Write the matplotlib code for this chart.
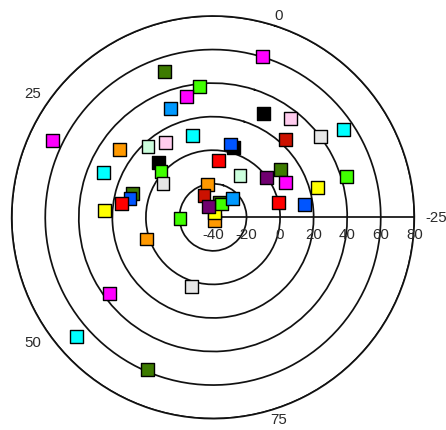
import numpy as np
import matplotlib
matplotlib.use("Agg")
import matplotlib.pyplot as plt
from matplotlib.transforms import offset_copy

# ---- data (angle value, radius value, colour), in drawing order ----
theta_vals = [0.35, 12.6, 8.3, 10.5, 13.6, -2.8, -7.0, -13.2, -12.2, 28.6,
              25.0, 21.0, 17.4, 11.1, 0.5, 1.5, 4.2, -8.7, 21.9, 23.1,
              25.6, 29.8, -5.1, -12.7, -12.4, -16.1, -19.1, -19.5, -20.7, -22.3,
              31.7, 33.0, 34.5, 36.2, 76.9, -0.8, -1.5, -4.9, -9.8, 9.6,
              14.1, 13.9, 38.1, 43.8, 62.8, 50.1, 51.8, 60.7]
r_vals = [60.4, 51.7, 38.5, 33.8, 29.6, 29.0, 35.1, 54.1, 40.3, 66.0,
          29.2, 17.4, 12.9, 10.5, 3.3, 5.0, -5.8, 23.5, 6.2, 1.4,
          -3.9, 30.3, -10.2, 9.5, -0.2, 8.1, 43.3, 24.9, 0.1, 15.2,
          10.0, 10.8, 15.0, 24.9, -38.0, -37.1, -30.2, -30.6, -24.0, -19.9,
          -26.0, -33.2, -20.3, 1.6, 3.3, 36.4, 67.9, 58.6]
point_colors = ["#ff00ff", "#3d7b00", "#40ff00", "#ff00ff", "#0099ff", "#000000",
                "#ffccee", "#00ffff", "#e6e6e6", "#ff00ff", "#ff9900", "#ccffdd",
                "#ffccee", "#00ffff", "#000000", "#0055ff", "#ff0000", "#cc1100",
                "#000000", "#40ff00", "#e6e6e6", "#00ffff", "#ccffdd", "#3d7b00",
                "#700070", "#ff00ff", "#40ff00", "#ffff00", "#ff0000", "#0055ff",
                "#3d7b00", "#0055ff", "#ff0000", "#ffff00", "#ff9900", "#ffff00",
                "#3d7b00", "#40ff00", "#0099ff", "#ff9900", "#cc1100", "#700070",
                "#40ff00", "#ff9900", "#e6e6e6", "#ff00ff", "#00ffff", "#3d7b00"]

radial_ticks = [-40, -20, 0, 20, 40, 60, 80]
angle_ticks = [-25, 0, 25, 50, 75]
PERIOD = 125          # full turn in angle units
R_MIN, R_MAX = -40, 80

FONT = "Liberation Sans"
TXT = "#2a2a2a"
LINE = "#111111"


def to_rad(v):
    return np.asarray(v, dtype=float) * 2 * np.pi / PERIOD


fig = plt.figure(figsize=(4.46, 4.31), dpi=100)
ax = fig.add_axes([0.02623, 0.02645, 0.9027, 0.9341], projection="polar")
ax.set_theta_offset(to_rad(25))       # -25 points east
ax.set_theta_direction(1)
ax.set_ylim(R_MIN, R_MAX)

ax.set_xticks([])
ax.set_yticks(radial_ticks[1:])
ax.set_yticklabels([])
ax.yaxis.grid(True, color=LINE, linewidth=1.25, linestyle="-")
ax.spines["polar"].set_color(LINE)
ax.spines["polar"].set_linewidth(1.25)
ax.tick_params(axis="y", length=0)

# radial axis line
ax.plot([to_rad(-25), to_rad(-25)], [R_MIN, R_MAX], color=LINE,
        linewidth=1.25, zorder=2)

# radial labels below the axis line
lab_tr = offset_copy(ax.transData, fig=fig, x=0, y=-10, units="dots")
for r in radial_ticks:
    ax.text(to_rad(-25), r, str(r), transform=lab_tr, ha="center", va="top",
            fontsize=10.8, family=FONT, color=TXT, clip_on=False)

# angular labels
for v in angle_ticks:
    a = (v + 25) * 2 * np.pi / PERIOD
    c = np.cos(a)
    ha = "left" if c > 0.5 else ("right" if c < -0.5 else "center")
    ax.text(to_rad(v), 86.5, str(v), ha=ha, va="center", fontsize=10.8,
            family=FONT, color=TXT, clip_on=False)

ax.scatter(to_rad(theta_vals), r_vals, marker="s", s=86, c=point_colors,
           edgecolors="black", linewidths=1.0, zorder=3, clip_on=False)

fig.savefig("out.png", dpi=100)
